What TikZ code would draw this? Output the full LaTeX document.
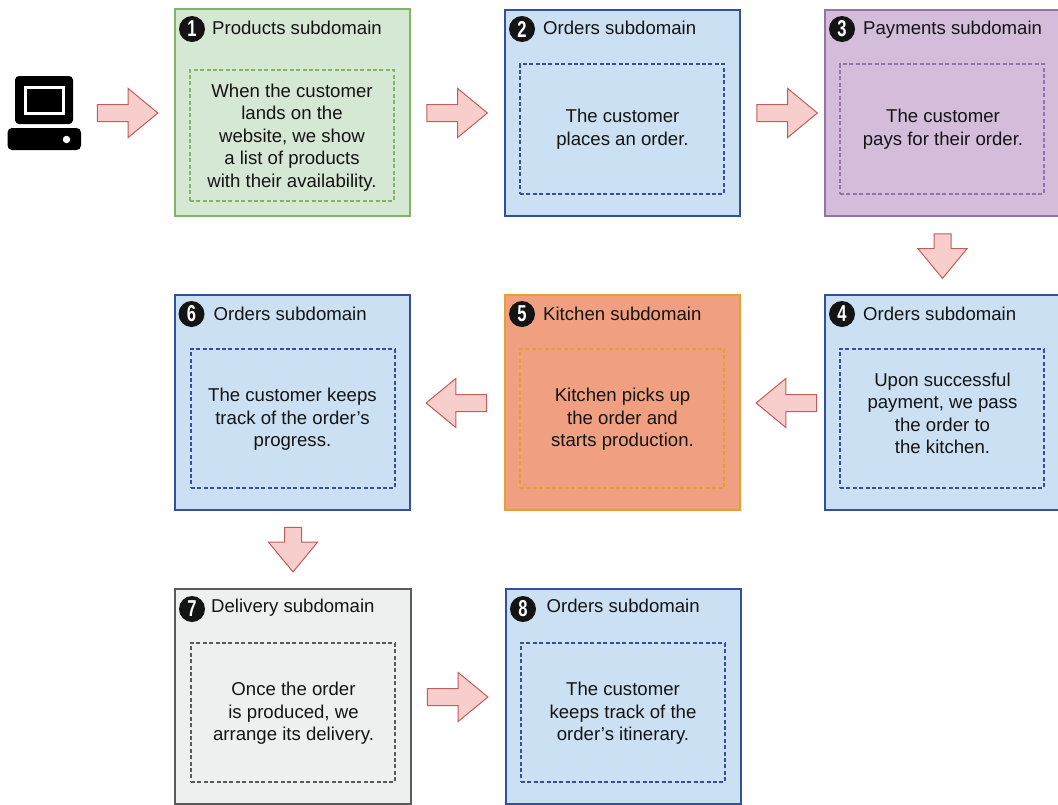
\documentclass[tikz,border=0pt]{standalone}
\usepackage{fontspec}
\setmainfont{Liberation Sans}
\usetikzlibrary{shapes.arrows}
\definecolor{arrowfill}{HTML}{F8CECC}
\definecolor{arrowline}{HTML}{C25D58}
\definecolor{gfill}{HTML}{D5E8D4}
\definecolor{gline}{HTML}{82B366}
\definecolor{bfill}{HTML}{CBE0F2}
\definecolor{bline}{HTML}{34509C}
\definecolor{pfill}{HTML}{D4BCDB}
\definecolor{pline}{HTML}{9673A6}
\definecolor{ofill}{HTML}{F0A081}
\definecolor{oline}{HTML}{E6A030}
\definecolor{dfill}{HTML}{EEF0EF}
\definecolor{dline}{HTML}{5A5A5A}
\tikzset{
  x=1pt,y=-1pt,
  outerbox/.style={draw=#1line,fill=#1fill,line width=1.4pt,inner sep=0pt,minimum width=235pt},
  innerbox/.style={draw=#1line,line width=1.05pt,dash pattern=on 4pt off 2.4pt,inner sep=0pt,minimum width=204pt},
  body/.style={align=center,inner sep=0pt,font=\fontsize{18.6}{22.4}\selectfont,text=black!92},
  title/.style={anchor=base west,inner sep=0pt,font=\fontsize{18.6}{22.4}\selectfont,text=black!92},
  badge/.style={circle,fill=black!92,text=white,minimum size=26pt,inner sep=0pt,font=\fontsize{23}{23}\selectfont\bfseries},
  blockarrow/.style={single arrow,draw=arrowline,fill=arrowfill,line width=1pt,inner sep=0pt,
    single arrow head extend=16pt,single arrow tip angle=79},
  rightlong/.style={blockarrow,minimum height=60.5pt},
  leftlong/.style={blockarrow,minimum height=60.5pt,shape border rotate=180},
  downshort/.style={blockarrow,minimum height=44.5pt,shape border rotate=270},
}
\newcommand{\digit}[1]{\scalebox{0.72}[1]{#1}}
\newcommand{\shaft}{\phantom{\rule{16pt}{16pt}}}
\begin{document}
\begin{tikzpicture}
\useasboundingbox (0,0) rectangle (1058,804);
% computer
\fill[black,rounded corners=4pt] (15,76) rectangle (73,124);
\fill[white] (24,86) rectangle (65,115);
\fill[black] (26.5,88.5) rectangle (62,112);
\fill[black,rounded corners=4.5pt] (7.5,128) rectangle (81,150);
\fill[white] (66.5,139.5) circle (3.7);
% boxes
\node[outerbox=g,minimum height=207pt] (box1) at (292.5,112.5) {};
\node[innerbox=g,minimum height=131pt] (in1) at (292,135.5) {};
\node[outerbox=b,minimum height=206pt] (box2) at (622.5,113) {};
\node[innerbox=b,minimum height=130pt] (in2) at (622,129) {};
\node[outerbox=p,minimum height=206pt] (box3) at (942.5,113) {};
\node[innerbox=p,minimum height=130pt] (in3) at (942,129) {};
\node[outerbox=b,minimum height=215pt] (box4) at (942.5,402.5) {};
\node[innerbox=b,minimum height=139pt] (in4) at (942,418.5) {};
\node[outerbox=o,minimum height=215pt] (box5) at (622.5,402.5) {};
\node[innerbox=o,minimum height=139pt] (in5) at (622,418.5) {};
\node[outerbox=b,minimum height=215pt] (box6) at (292.5,402.5) {};
\node[innerbox=b,minimum height=139pt] (in6) at (293,418.5) {};
\node[outerbox=d,minimum height=215pt,minimum width=236pt] (box7) at (293,696.5) {};
\node[innerbox=d,minimum height=139pt] (in7) at (293,712.5) {};
\node[outerbox=b,minimum height=215pt] (box8) at (623.5,696.5) {};
\node[innerbox=b,minimum height=139pt] (in8) at (623,712.5) {};
% badges
\node[badge] (n1) at (192,29) {\digit{1}};
\node[badge] (n2) at (522,29) {\digit{2}};
\node[badge] (n3) at (842,29) {\digit{3}};
\node[badge] (n4) at (842,314) {\digit{4}};
\node[badge] (n5) at (522,314) {\digit{5}};
\node[badge] (n6) at (191.5,314) {\digit{6}};
\node[badge] (n7) at (192,609) {\digit{7}};
\node[badge] (n8) at (523,609) {\digit{8}};
% titles
\node[title] (t1) at (212,34.5) {Products subdomain};
\node[title] (t2) at (543,34.5) {Orders subdomain};
\node[title] (t3) at (863,34.5) {Payments subdomain};
\node[title] (t4) at (863,320.5) {Orders subdomain};
\node[title] (t5) at (543,320.5) {Kitchen subdomain};
\node[title] (t6) at (213.5,320.5) {Orders subdomain};
\node[title] (t7) at (211,612.5) {Delivery subdomain};
\node[title] (t8) at (546.5,612.5) {Orders subdomain};
% texts
\node[body] (x1) at (292,137.5) {When the customer\\lands on the\\website, we show\\a list of products\\with their availability.};
\node[body] (x2) at (622.5,129) {The customer\\places an order.};
\node[body] (x3) at (943,129) {The customer\\pays for their order.};
\node[body] (x4) at (942.5,413.5) {Upon successful\\payment, we pass\\the order to\\the kitchen.};
\node[body] (x5) at (622.5,419.5) {Kitchen picks up\\the order and\\starts production.};
\node[body] (x6) at (292.5,419.5) {The customer keeps\\track of the order's\\progress.};
\node[body] (x7) at (293.5,713.5) {Once the order\\is produced, we\\arrange its delivery.};
\node[body] (x8) at (623,713.5) {The customer\\keeps track of the\\order's itinerary.};
% arrows
\node[rightlong] (a0) at (122.5,113) {\shaft};
\node[rightlong] (a1) at (452,113) {\shaft};
\node[rightlong] (a2) at (782,113) {\shaft};
\node[downshort] (a3) at (942.5,251) {\shaft};
\node[leftlong] (a4) at (791.5,403) {\shaft};
\node[leftlong] (a5) at (461.5,403) {\shaft};
\node[downshort] (a6) at (293,544.5) {\shaft};
\node[rightlong] (a7) at (452.5,697) {\shaft};
\end{tikzpicture}
\end{document}
